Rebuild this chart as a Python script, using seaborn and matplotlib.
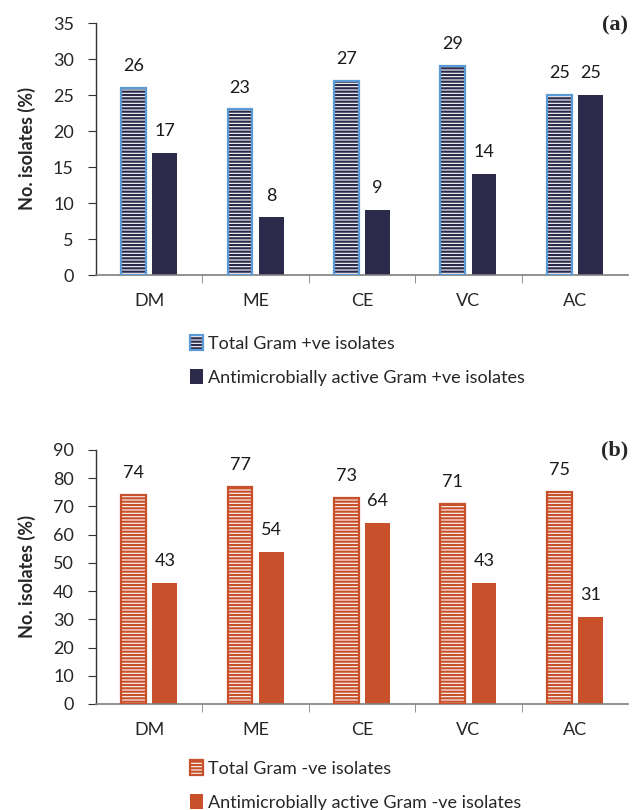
import pandas as pd
import seaborn as sns
import matplotlib.pyplot as plt
from matplotlib.patches import Patch, Rectangle

# data
sites = ['DM', 'ME', 'CE', 'VC', 'AC']
total_pos = [26, 23, 27, 29, 25]
active_pos = [17, 8, 9, 14, 25]
total_neg = [74, 77, 73, 71, 75]
active_neg = [43, 54, 64, 43, 31]

lab_total_pos = 'Total Gram +ve isolates'
lab_active_pos = 'Antimicrobially active Gram +ve isolates'
lab_total_neg = 'Total Gram -ve isolates'
lab_active_neg = 'Antimicrobially active Gram -ve isolates'

navy = '#2b2a4a'
lightblue = '#5b9bd5'
orange = '#c8502b'

sns.set_style('white')
plt.rcParams['font.family'] = ['Lato', 'DejaVu Sans']
plt.rcParams['hatch.linewidth'] = 1.6

fig = plt.figure(figsize=(6.34, 8.1), dpi=100)
left, width = 96 / 634, 532 / 634
ax_a = fig.add_axes([left, 1 - 275 / 810, width, 252 / 810])
ax_b = fig.add_axes([left, 1 - 704 / 810, width, 254 / 810])


def panel(ax, total, active, lab_t, lab_a, hatch_col, edge_col, fill_col, ymax, step):
    df = pd.DataFrame({
        'Site': sites * 2,
        'Value': total + active,
        'Series': [lab_t] * len(sites) + [lab_a] * len(sites),
    })
    sns.barplot(data=df, x='Site', y='Value', hue='Series', hue_order=[lab_t, lab_a],
                palette=['white', fill_col], width=0.585, gap=0.2, saturation=1,
                legend=False, ax=ax)
    tot_c, act_c = ax.containers[0], ax.containers[1]
    for p in tot_c:
        p.set_facecolor('white')
        p.set_edgecolor(hatch_col)
        p.set_hatch('-----')
        p.set_linewidth(0)
        ax.add_patch(Rectangle((p.get_x(), p.get_y()), p.get_width(), p.get_height(),
                               fill=False, edgecolor=edge_col, linewidth=1.6, zorder=3))
    for p in act_c:
        p.set_edgecolor('none')
    ax.bar_label(tot_c, labels=[str(v) for v in total], padding=10, fontsize=13, color='#1a1a1a')
    ax.bar_label(act_c, labels=[str(v) for v in active], padding=10, fontsize=13, color='#1a1a1a')

    ax.set_xlim(-0.5, len(sites) - 0.5)
    ax.set_ylim(0, ymax)
    ax.set_yticks(range(0, ymax + 1, step))
    ax.set_xlabel('')
    ax.set_ylabel('No. isolates (%)', fontsize=13, fontweight='bold', labelpad=12)
    ax.set_xticks(range(len(sites)))
    ax.set_xticklabels(sites)
    ax.set_xticks([i + 0.5 for i in range(len(sites) - 1)], minor=True)
    ax.tick_params(axis='x', which='major', length=0, pad=13, labelsize=13)
    ax.tick_params(axis='x', which='minor', length=6, direction='out', color='#7f7f7f', bottom=True)
    ax.tick_params(axis='y', length=6, direction='out', color='#333333', labelsize=13, left=True, pad=10)
    for s in ['top', 'right']:
        ax.spines[s].set_visible(False)
    ax.spines['left'].set_color('#333333')
    ax.spines['bottom'].set_color('#7f7f7f')
    ax.spines['left'].set_linewidth(1.0)
    ax.spines['bottom'].set_linewidth(1.2)

    h_tot = (Patch(facecolor='white', edgecolor=hatch_col, hatch='-----', linewidth=0),
             Patch(fill=False, edgecolor=edge_col, linewidth=1.6))
    h_act = Patch(facecolor=fill_col, edgecolor='none')
    return [h_tot, h_act], [lab_t, lab_a]


h, l = panel(ax_a, total_pos, active_pos, lab_total_pos, lab_active_pos,
             navy, lightblue, navy, 35, 5)
fig.legend(h, l, loc='upper left', bbox_to_anchor=(181 / 634, 1 - 326 / 810),
           frameon=False, fontsize=13, handlelength=0.7, handleheight=0.9,
           handletextpad=0.3, labelspacing=0.95, borderpad=0)

h, l = panel(ax_b, total_neg, active_neg, lab_total_neg, lab_active_neg,
             orange, orange, orange, 90, 10)
fig.legend(h, l, loc='upper left', bbox_to_anchor=(181 / 634, 1 - 751 / 810),
           frameon=False, fontsize=13, handlelength=0.7, handleheight=0.9,
           handletextpad=0.3, labelspacing=0.95, borderpad=0)

fig.text(628 / 634, 1 - 25 / 810, '(a)', ha='right', va='center', fontsize=16,
         fontweight='bold', family='Liberation Serif')
fig.text(628 / 634, 1 - 450 / 810, '(b)', ha='right', va='center', fontsize=16,
         fontweight='bold', family='Liberation Serif')

fig.savefig('out.png', dpi=100)
